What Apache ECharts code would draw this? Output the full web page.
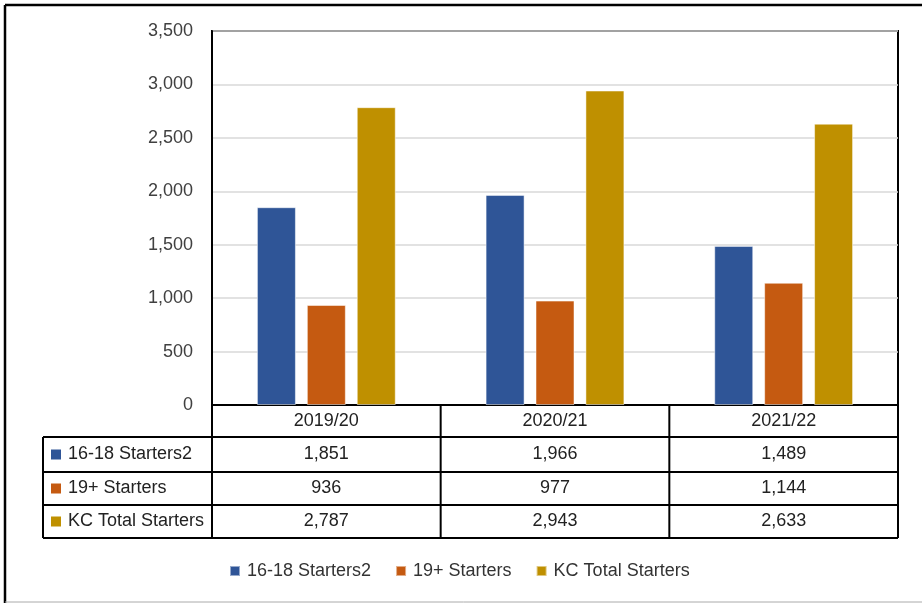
<!DOCTYPE html>
<html><head><meta charset="utf-8">
<script src="https://cdn.jsdelivr.net/npm/echarts@6/dist/echarts.min.js"></script>
<style>html,body{margin:0;padding:0;background:#fff}#c{width:922px;height:603px}</style>
</head><body><div id="c"></div>
<script>
const categories = ['2019/20', '2020/21', '2021/22'];
const seriesNames = ['16-18 Starters2', '19+ Starters', 'KC Total Starters'];
const starters1618 = [1851, 1966, 1489];
const starters19 = [936, 977, 1144];
const totalStarters = [2787, 2943, 2633];
const yTicks = [0, 500, 1000, 1500, 2000, 2500, 3000, 3500];

const colors = ['#2F5597', '#C55A11', '#BF9000'];
const FONT = 'Liberation Sans';
const GL = 212, GT = 31, GR = 898, GB = 405;
const W = 922, H = 603;
const TL = 43;
const rowY = [405, 437, 472, 505, 538];
const allData = [starters1618, starters19, totalStarters];
const fmt = v => v.toLocaleString('en-US');

const chart = echarts.init(document.getElementById('c'), null, {renderer: 'canvas'});
const catW = (GR - GL) / categories.length;
const g = [];
const ls = {stroke: '#000', lineWidth: 2};
// outer border
g.push({type: 'line', shape: {x1: 5, y1: 5, x2: W, y2: 5}, style: {stroke: '#000', lineWidth: 2.5}});
g.push({type: 'line', shape: {x1: 5, y1: 5, x2: 5, y2: H}, style: {stroke: '#000', lineWidth: 2.5}});
g.push({type: 'line', shape: {x1: 5, y1: H - 1, x2: W, y2: H - 1}, style: {stroke: '#aaa', lineWidth: 1}});
// table horizontal lines
for (let i = 1; i < rowY.length; i++) {
  g.push({type: 'line', shape: {x1: TL, y1: rowY[i], x2: GR, y2: rowY[i]}, style: ls});
}
// table vertical lines
g.push({type: 'line', shape: {x1: TL, y1: rowY[1], x2: TL, y2: rowY[4]}, style: ls});
for (let i = 0; i <= categories.length; i++) {
  const x = GL + i * catW;
  g.push({type: 'line', shape: {x1: x, y1: rowY[0], x2: x, y2: rowY[4]}, style: ls});
}
// row headers and values
for (let s = 0; s < seriesNames.length; s++) {
  const cy = (rowY[s + 1] + rowY[s + 2]) / 2;
  g.push({type: 'rect', shape: {x: 51, y: cy - 5, width: 10, height: 10}, style: {fill: colors[s]}});
  g.push({type: 'text', x: 68, y: cy, style: {text: seriesNames[s], fill: '#222', font: '18px "' + FONT + '"', verticalAlign: 'middle', align: 'left'}});
  for (let c = 0; c < categories.length; c++) {
    g.push({type: 'text', x: GL + (c + 0.5) * catW, y: cy, style: {text: fmt(allData[s][c]), fill: '#222', font: '18px "' + FONT + '"', verticalAlign: 'middle', align: 'center'}});
  }
}

chart.setOption({
  animation: false,
  textStyle: {fontFamily: FONT},
  grid: {left: GL, top: GT, right: W - GR, bottom: H - GB, show: true, borderColor: '#000', borderWidth: 2, containLabel: false},
  legend: {
    data: seriesNames, left: 224, top: 557, itemWidth: 10, itemHeight: 10, itemGap: 24, icon: 'rect',
    textStyle: {fontSize: 18, color: '#333', fontFamily: FONT, padding: [0, 0, 0, 2]}
  },
  xAxis: {
    type: 'category', data: categories,
    axisLine: {show: true, lineStyle: {color: '#000', width: 2}},
    axisTick: {show: false},
    axisLabel: {fontSize: 18, color: '#222', margin: 7, fontFamily: FONT}
  },
  yAxis: {
    type: 'value', min: 0, max: 3500, interval: 500,
    axisLine: {show: true, lineStyle: {color: '#000', width: 2}},
    axisTick: {show: false},
    splitLine: {lineStyle: {color: '#d9d9d9', width: 1.5}},
    axisLabel: {fontSize: 18, color: '#404040', margin: 19, fontFamily: FONT, formatter: v => fmt(v)}
  },
  series: seriesNames.map((n, i) => ({
    name: n, type: 'bar', data: allData[i], barWidth: 39, barGap: '28%',
    itemStyle: {color: colors[i], borderColor: 'rgba(255,255,255,0.5)', borderWidth: 1}
  })),
  graphic: g
});
</script></body></html>
